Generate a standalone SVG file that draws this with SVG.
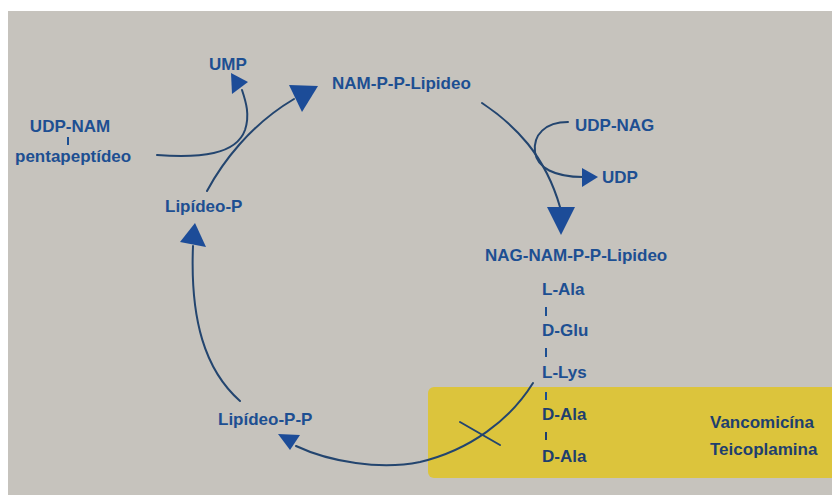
<svg xmlns="http://www.w3.org/2000/svg" width="832" height="495" viewBox="0 0 832 495">
<style>
.t{font-family:"Liberation Sans",Arial,sans-serif;font-weight:bold;font-size:17px;fill:#1d4f92}
.d{fill:#1f3f6e}
.c{fill:none;stroke:#23456f;stroke-width:2;stroke-linecap:round}
.h{fill:#1c4c98}
.b{stroke:#1d4f92;stroke-width:2}
</style>
<rect x="0" y="0" width="832" height="495" fill="#ffffff"/>
<rect x="8" y="11" width="824" height="484" fill="#c6c3bd"/>
<rect x="428" y="387" width="420" height="91" rx="6" fill="#dcc43c"/>
<g id="connectors">
<path class="c" d="M157,155 C200,158 236,155 245,130 C250,115 246,102 242,90"/>
<polygon class="h" points="231,73 248,82 232,94"/>
<path class="c" d="M207,191 C222,163 250,125 294,99"/>
<polygon class="h" points="289,85 318,86 302,112"/>
<path class="c" d="M482,103 C515,125 545,155 560,207"/>
<polygon class="h" points="547,207 575,207 561,235"/>
<path class="c" d="M568,122 C545,122 533,135 535,152 C537,168 555,177 583,177"/>
<polygon class="h" points="582,168 598,177 582,187"/>
<path class="c" d="M240,401 C205,370 190,320 193,246"/>
<polygon class="h" points="195,223 180,242 206,247"/>
<path class="c" d="M533,383 C510,420 470,450 420,462 C380,470 330,462 296,446"/>
<polygon class="h" points="278,434 300,435 290,450"/>
<path class="c" d="M460,422 L500,445"/>
</g>
<g id="udp-nam">
<text class="t" x="70" y="132" text-anchor="middle">UDP-NAM</text>
<line class="b" x1="68" y1="137" x2="68" y2="145"/>
<text class="t" x="15" y="162">pentapeptídeo</text>
</g>
<g id="ump"><text class="t" x="209" y="70">UMP</text></g>
<g id="nam-pp-lipideo"><text class="t" x="332" y="89">NAM-P-P-Lipideo</text></g>
<g id="udp-nag"><text class="t" x="575" y="131">UDP-NAG</text></g>
<g id="udp"><text class="t" x="602" y="183">UDP</text></g>
<g id="nag-nam-pp-lipideo">
<text class="t" x="485" y="261">NAG-NAM-P-P-Lipideo</text>
<text class="t" x="542" y="295">L-Ala</text>
<line class="b" x1="546" y1="307" x2="546" y2="316"/>
<text class="t" x="542" y="336">D-Glu</text>
<line class="b" x1="546" y1="348" x2="546" y2="357"/>
<text class="t" x="542" y="378">L-Lys</text>
<line class="b" x1="546" y1="392" x2="546" y2="400"/>
<text class="t d" x="542" y="420">D-Ala</text>
<line class="b" x1="546" y1="432" x2="546" y2="440" style="stroke:#1f3f6e"/>
<text class="t d" x="542" y="462">D-Ala</text>
</g>
<g id="antibiotics">
<text class="t d" x="710" y="428">Vancomicína</text>
<text class="t d" x="710" y="455">Teicoplamina</text>
</g>
<g id="lipideo-p"><text class="t" x="165" y="212">Lipídeo-P</text></g>
<g id="lipideo-pp"><text class="t" x="218" y="425">Lipídeo-P-P</text></g>
</svg>
